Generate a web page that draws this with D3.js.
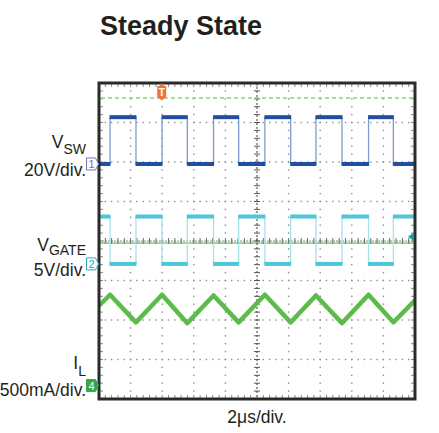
<!DOCTYPE html>
<html>
<head>
<meta charset="utf-8">
<script src="https://cdn.jsdelivr.net/npm/d3@7"></script>
<style>
body { margin: 0; background: #fff; }
text { font-family: "Liberation Sans", Arial, Helvetica, sans-serif; fill: #231f20; }
</style>
</head>
<body>
<div id="chartContainer"></div>
<script>
// Switching edges, µs from the left edge of the screen (VSW rising / falling)
const riseTimes = [0.70, 3.99, 7.25, 10.50, 13.73, 17.06];
const fallTimes = [2.34, 5.59, 8.84, 12.13, 15.38, 18.63];

// VSW levels (V)
const vswLevels = [0, 23.7];
// VGATE levels (V), complementary to VSW
const vgateLevels = [0, 6.0];

// Inductor current (A): peaks at the rising edges, valleys at the falling edges
const ilPeaks = [1.15, 1.15, 1.14, 1.15, 1.14, 1.15];
const ilValleys = [0.80, 0.79, 0.80, 0.80, 0.79, 0.80];
const ilStart = 1.01;
const ilEnd = 1.08;

// Scope settings: volts (or amps) per division and ground offset in divisions
const chLabels = ["SW", "GATE", "L"];
const chScales = ["20V/div.", "5V/div.", "500mA/div."];
const chPerDiv = [20, 5, 0.5];
const chOffsets = [1.95, -0.58, -3.66];
const chMarkers = ["1", "2", "4"];

const timeLabel = "2\u03bcs/div.";
const timeSpan = [0, 20];      // µs across the screen
const divSpan = [-4, 4];       // vertical divisions
const triggerTime = 3.97;
const triggerLevelDiv = 3.62;
const ch2LevelDiv = 0.11;
const refLineDiv = -0.05;

const svgWidth = 439;
const svgHeight = 433;
const plot = { left: 99, right: 415, top: 83, bottom: 399 };

const svg = d3.select("#chartContainer")
    .append("svg")
    .attr("width", svgWidth)
    .attr("height", svgHeight);

const xScale = d3.scaleLinear().domain(timeSpan).range([plot.left, plot.right]);
const yScale = d3.scaleLinear().domain(divSpan).range([plot.bottom, plot.top]);

// channel value -> screen y
function chY(ch, v) {
    return yScale(chOffsets[ch] + v / chPerDiv[ch]);
}

// Title
svg.append("text")
    .attr("x", 100)
    .attr("y", 35)
    .attr("font-size", 27)
    .attr("font-weight", "bold")
    .text("Steady State");

// Graticule
const grid = svg.append("g");
const majorX = d3.range(2, 20, 2).filter(d => d !== 10);
const majorY = d3.range(-3, 4, 1).filter(d => d !== 0);
const minorX = d3.range(0, 20.001, 0.4);
const minorY = d3.range(-4, 4.001, 0.2);

majorX.forEach(t => {
    grid.selectAll(null)
        .data(minorY)
        .enter()
        .append("rect")
        .attr("x", xScale(t) - 0.7)
        .attr("y", d => yScale(d) - 0.7)
        .attr("width", 1.4)
        .attr("height", 1.4)
        .attr("fill", "#8c8c8c");
});
majorY.forEach(v => {
    grid.selectAll(null)
        .data(minorX)
        .enter()
        .append("rect")
        .attr("x", d => xScale(d) - 0.7)
        .attr("y", yScale(v) - 0.7)
        .attr("width", 1.4)
        .attr("height", 1.4)
        .attr("fill", "#8c8c8c");
});

// center cross
grid.append("line")
    .attr("x1", plot.left).attr("x2", plot.right)
    .attr("y1", yScale(0)).attr("y2", yScale(0))
    .attr("stroke", "#b4b4b4")
    .attr("stroke-width", 1.5)
    .attr("stroke-dasharray", "2,1");
grid.selectAll(null)
    .data(minorX)
    .enter()
    .append("line")
    .attr("x1", d => xScale(d)).attr("x2", d => xScale(d))
    .attr("y1", yScale(0) - 3).attr("y2", yScale(0) + 3)
    .attr("stroke", "#6a6a6a");

grid.append("line")
    .attr("x1", xScale(10)).attr("x2", xScale(10))
    .attr("y1", plot.top).attr("y2", plot.bottom)
    .attr("stroke", "#3a3a3a")
    .attr("stroke-width", 1)
    .attr("stroke-dasharray", "2,2");
grid.selectAll(null)
    .data(minorY)
    .enter()
    .append("line")
    .attr("x1", xScale(10) - 3).attr("x2", xScale(10) + 3)
    .attr("y1", d => yScale(d)).attr("y2", d => yScale(d))
    .attr("stroke", "#555");

// edge ticks
grid.selectAll(null)
    .data(minorX)
    .enter()
    .append("line")
    .attr("x1", d => xScale(d)).attr("x2", d => xScale(d))
    .attr("y1", plot.top).attr("y2", plot.top + 4)
    .attr("stroke", "#8a8a8a");
grid.selectAll(null)
    .data(minorX)
    .enter()
    .append("line")
    .attr("x1", d => xScale(d)).attr("x2", d => xScale(d))
    .attr("y1", plot.bottom).attr("y2", plot.bottom - 4)
    .attr("stroke", "#8a8a8a");
grid.selectAll(null)
    .data(minorY)
    .enter()
    .append("line")
    .attr("x1", plot.left).attr("x2", plot.left + 4)
    .attr("y1", d => yScale(d)).attr("y2", d => yScale(d))
    .attr("stroke", "#8a8a8a");
grid.selectAll(null)
    .data(minorY)
    .enter()
    .append("line")
    .attr("x1", plot.right).attr("x2", plot.right - 4)
    .attr("y1", d => yScale(d)).attr("y2", d => yScale(d))
    .attr("stroke", "#8a8a8a");

// reference lines
svg.append("line")
    .attr("x1", plot.left + 2).attr("x2", plot.right - 2)
    .attr("y1", yScale(triggerLevelDiv)).attr("y2", yScale(triggerLevelDiv))
    .attr("stroke", "#86cf8a")
    .attr("stroke-width", 1.5)
    .attr("stroke-dasharray", "4,3");
svg.append("line")
    .attr("x1", plot.left).attr("x2", plot.right)
    .attr("y1", yScale(refLineDiv)).attr("y2", yScale(refLineDiv))
    .attr("stroke", "#49a84f")
    .attr("stroke-width", 1.2);

// Waveforms
const clip = svg.append("clipPath").attr("id", "screen")
    .append("rect")
    .attr("x", plot.left).attr("y", plot.top)
    .attr("width", plot.right - plot.left)
    .attr("height", plot.bottom - plot.top);
const traces = svg.append("g").attr("clip-path", "url(#screen)");

function squareWave(ch, levels, startHigh, thick, thin) {
    const edges = riseTimes.map(t => ({ t: t, up: true }))
        .concat(fallTimes.map(t => ({ t: t, up: false })))
        .sort((a, b) => a.t - b.t);
    let high = startHigh;
    let t0 = timeSpan[0];
    const flats = [];
    const steps = [];
    edges.forEach(e => {
        flats.push({ t0: t0, t1: e.t, v: levels[high ? 1 : 0] });
        high = startHigh ? !e.up : e.up;
        steps.push({ t: e.t });
        t0 = e.t;
    });
    flats.push({ t0: t0, t1: timeSpan[1], v: levels[high ? 1 : 0] });

    traces.selectAll(null)
        .data(steps)
        .enter()
        .append("line")
        .attr("x1", d => xScale(d.t)).attr("x2", d => xScale(d.t))
        .attr("y1", chY(ch, levels[0])).attr("y2", chY(ch, levels[1]))
        .attr("stroke", thin)
        .attr("stroke-width", 1.3);
    traces.selectAll(null)
        .data(flats)
        .enter()
        .append("line")
        .attr("x1", d => xScale(d.t0) - 0.5).attr("x2", d => xScale(d.t1) + 0.5)
        .attr("y1", d => chY(ch, d.v)).attr("y2", d => chY(ch, d.v))
        .attr("stroke", thick)
        .attr("stroke-width", 4);
}

squareWave(0, vswLevels, false, "#1f4f9e", "#7d9bd0");
squareWave(1, vgateLevels, true, "#4cc6d9", "#a6e2ec");

// inductor current triangle
const ilPoints = [{ t: timeSpan[0], v: ilStart }];
riseTimes.forEach((t, i) => {
    ilPoints.push({ t: t, v: ilPeaks[i] });
    ilPoints.push({ t: fallTimes[i], v: ilValleys[i] });
});
ilPoints.push({ t: timeSpan[1], v: ilEnd });

const ilLine = d3.line()
    .x(d => xScale(d.t))
    .y(d => chY(2, d.v));
traces.append("path")
    .datum(ilPoints)
    .attr("d", ilLine)
    .attr("fill", "none")
    .attr("stroke", "#5cbb4a")
    .attr("stroke-width", 4.5)
    .attr("stroke-linejoin", "round");

// Frame
svg.append("rect")
    .attr("x", plot.left).attr("y", plot.top)
    .attr("width", plot.right - plot.left)
    .attr("height", plot.bottom - plot.top)
    .attr("fill", "none")
    .attr("stroke", "#2b2b2b")
    .attr("stroke-width", 3);

// Trigger marker
const tx = xScale(triggerTime);
svg.append("path")
    .attr("d", `M${tx - 4.5},${plot.top + 3} h9 v11 l-4.5,3.5 l-4.5,-3.5 Z`)
    .attr("fill", "#f27435");
svg.append("path")
    .attr("d", `M${tx - 2.5},${plot.top + 3} l2.5,-3 l2.5,3 Z`)
    .attr("fill", "#f27435");
svg.append("text")
    .attr("x", tx)
    .attr("y", plot.top + 13)
    .attr("text-anchor", "middle")
    .attr("font-size", 10)
    .attr("font-weight", "bold")
    .style("fill", "#fff")
    .text("T");

// ch2 level arrow at right edge
const ay = yScale(ch2LevelDiv);
svg.append("path")
    .attr("d", `M${plot.right - 7},${ay} l6,-4.5 v9 Z`)
    .attr("fill", "#139fa9");

// Channel labels and ground markers
const markerStroke = ["#6f71b4", "#2aa8b8", "#38a548"];
const markerFill = ["#fff", "#fff", "#38a548"];
const markerText = ["#6f71b4", "#2aa8b8", "#fff"];
const subDy = [6, 4, 7];

chLabels.forEach((sub, i) => {
    const gy = chY(i, 0);
    svg.append("path")
        .attr("d", `M86.5,${gy - 6} h9 l3,6 l-3,6 h-9 Z`)
        .attr("fill", markerFill[i])
        .attr("stroke", markerStroke[i])
        .attr("stroke-width", 1);
    svg.append("text")
        .attr("x", 91.5)
        .attr("y", gy + 4)
        .attr("text-anchor", "middle")
        .attr("font-size", 11)
        .style("fill", markerText[i])
        .text(chMarkers[i]);

    const label = svg.append("text")
        .attr("x", 86)
        .attr("y", gy - 10 - subDy[i] + (i === 1 ? 1 : 0))
        .attr("text-anchor", "end")
        .attr("font-size", 17.5);
    label.append("tspan").text(i === 2 ? "I" : "V");
    label.append("tspan")
        .attr("dy", subDy[i])
        .attr("font-size", 14)
        .text(sub);

    svg.append("text")
        .attr("x", 86)
        .attr("y", gy + (i === 2 ? 10 : 12.5))
        .attr("text-anchor", "end")
        .attr("font-size", 17.5)
        .text(chScales[i]);
});

// time base label
svg.append("text")
    .attr("x", xScale(10))
    .attr("y", 423)
    .attr("text-anchor", "middle")
    .attr("font-size", 17.5)
    .text(timeLabel);
</script>
</body>
</html>
